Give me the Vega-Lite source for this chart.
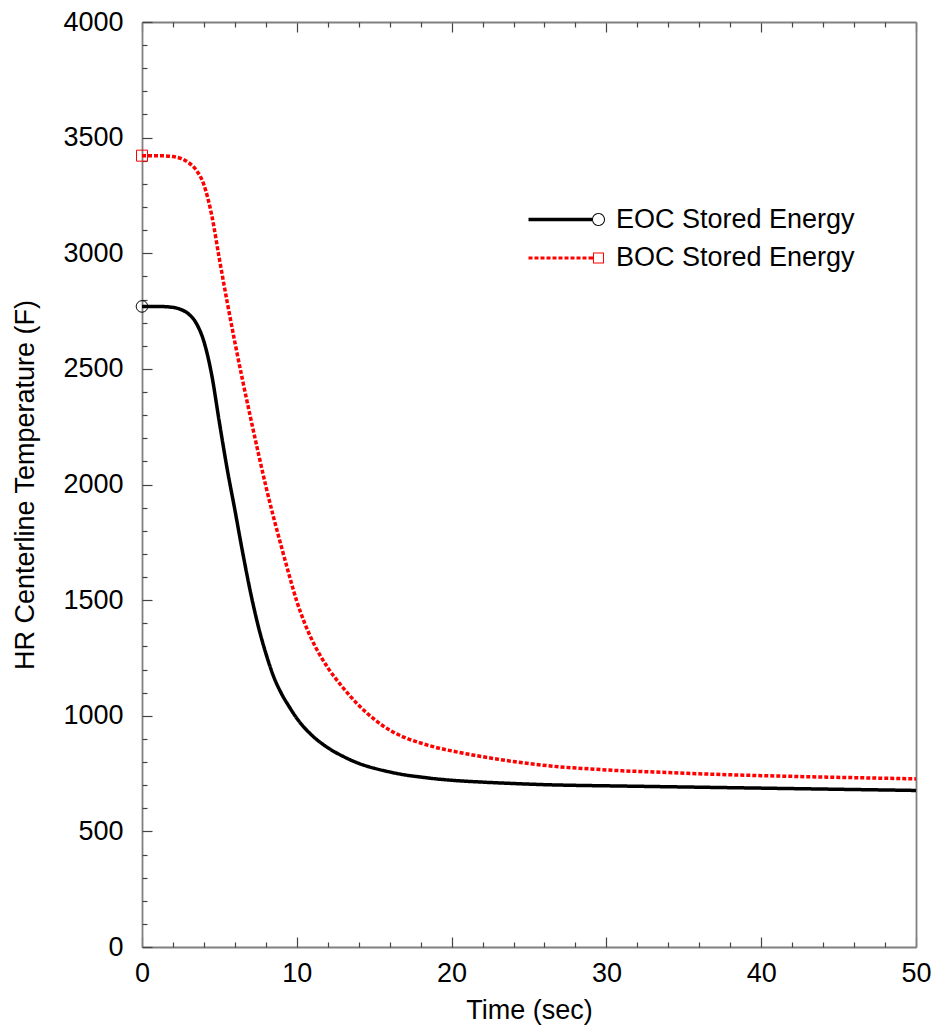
{
  "$schema": "https://vega.github.io/schema/vega-lite/v6.json",
  "width": 774,
  "height": 925,
  "autosize": "none",
  "padding": {"left": 142, "top": 22, "right": 18, "bottom": 85},
  "background": "white",
  "config": {
    "view": {"stroke": null},
    "font": "Liberation Sans",
    "axis": {
      "grid": false,
      "labelFont": "Liberation Sans",
      "titleFont": "Liberation Sans",
      "labelFontSize": 27,
      "titleFontSize": 27,
      "labelColor": "black",
      "titleColor": "black",
      "titleFontWeight": "normal",
      "domainColor": "#808080",
      "domainWidth": 1.8,
      "tickColor": "#444444",
      "tickWidth": 1.2
    }
  },
  "data": {
    "values": [
      {"series": "EOC Stored Energy", "t": 0, "T": 2770},
      {"series": "EOC Stored Energy", "t": 1, "T": 2770},
      {"series": "EOC Stored Energy", "t": 2, "T": 2766},
      {"series": "EOC Stored Energy", "t": 2.5, "T": 2757},
      {"series": "EOC Stored Energy", "t": 3, "T": 2738},
      {"series": "EOC Stored Energy", "t": 3.5, "T": 2698},
      {"series": "EOC Stored Energy", "t": 4, "T": 2618},
      {"series": "EOC Stored Energy", "t": 4.5, "T": 2475},
      {"series": "EOC Stored Energy", "t": 5, "T": 2268},
      {"series": "EOC Stored Energy", "t": 5.5, "T": 2068},
      {"series": "EOC Stored Energy", "t": 6, "T": 1890},
      {"series": "EOC Stored Energy", "t": 6.5, "T": 1707},
      {"series": "EOC Stored Energy", "t": 7, "T": 1537},
      {"series": "EOC Stored Energy", "t": 7.5, "T": 1390},
      {"series": "EOC Stored Energy", "t": 8, "T": 1270},
      {"series": "EOC Stored Energy", "t": 8.5, "T": 1170},
      {"series": "EOC Stored Energy", "t": 9, "T": 1097},
      {"series": "EOC Stored Energy", "t": 9.5, "T": 1040},
      {"series": "EOC Stored Energy", "t": 10, "T": 989},
      {"series": "EOC Stored Energy", "t": 11, "T": 914},
      {"series": "EOC Stored Energy", "t": 12, "T": 862},
      {"series": "EOC Stored Energy", "t": 13, "T": 824},
      {"series": "EOC Stored Energy", "t": 14, "T": 794},
      {"series": "EOC Stored Energy", "t": 15, "T": 773},
      {"series": "EOC Stored Energy", "t": 16, "T": 757},
      {"series": "EOC Stored Energy", "t": 17, "T": 744},
      {"series": "EOC Stored Energy", "t": 18, "T": 735},
      {"series": "EOC Stored Energy", "t": 19, "T": 727},
      {"series": "EOC Stored Energy", "t": 20, "T": 721},
      {"series": "EOC Stored Energy", "t": 22, "T": 713},
      {"series": "EOC Stored Energy", "t": 24, "T": 707},
      {"series": "EOC Stored Energy", "t": 26, "T": 702},
      {"series": "EOC Stored Energy", "t": 28, "T": 699},
      {"series": "EOC Stored Energy", "t": 30, "T": 697},
      {"series": "EOC Stored Energy", "t": 32, "T": 695},
      {"series": "EOC Stored Energy", "t": 35, "T": 692},
      {"series": "EOC Stored Energy", "t": 38, "T": 689},
      {"series": "EOC Stored Energy", "t": 41, "T": 686},
      {"series": "EOC Stored Energy", "t": 44, "T": 683},
      {"series": "EOC Stored Energy", "t": 47, "T": 680},
      {"series": "EOC Stored Energy", "t": 50, "T": 677},
      {"series": "BOC Stored Energy", "t": 0, "T": 3422},
      {"series": "BOC Stored Energy", "t": 1, "T": 3422},
      {"series": "BOC Stored Energy", "t": 2, "T": 3418},
      {"series": "BOC Stored Energy", "t": 2.5, "T": 3410},
      {"series": "BOC Stored Energy", "t": 3, "T": 3392},
      {"series": "BOC Stored Energy", "t": 3.5, "T": 3360},
      {"series": "BOC Stored Energy", "t": 4, "T": 3296},
      {"series": "BOC Stored Energy", "t": 4.5, "T": 3166},
      {"series": "BOC Stored Energy", "t": 5, "T": 2975},
      {"series": "BOC Stored Energy", "t": 5.5, "T": 2790},
      {"series": "BOC Stored Energy", "t": 6, "T": 2615},
      {"series": "BOC Stored Energy", "t": 6.5, "T": 2450},
      {"series": "BOC Stored Energy", "t": 7, "T": 2293},
      {"series": "BOC Stored Energy", "t": 7.5, "T": 2140},
      {"series": "BOC Stored Energy", "t": 8, "T": 1993},
      {"series": "BOC Stored Energy", "t": 8.5, "T": 1858},
      {"series": "BOC Stored Energy", "t": 9, "T": 1732},
      {"series": "BOC Stored Energy", "t": 9.5, "T": 1610},
      {"series": "BOC Stored Energy", "t": 10, "T": 1495},
      {"series": "BOC Stored Energy", "t": 10.5, "T": 1402},
      {"series": "BOC Stored Energy", "t": 11, "T": 1325},
      {"series": "BOC Stored Energy", "t": 11.5, "T": 1262},
      {"series": "BOC Stored Energy", "t": 12, "T": 1208},
      {"series": "BOC Stored Energy", "t": 13, "T": 1120},
      {"series": "BOC Stored Energy", "t": 14, "T": 1045},
      {"series": "BOC Stored Energy", "t": 15, "T": 985},
      {"series": "BOC Stored Energy", "t": 16, "T": 938},
      {"series": "BOC Stored Energy", "t": 17, "T": 905},
      {"series": "BOC Stored Energy", "t": 18, "T": 882},
      {"series": "BOC Stored Energy", "t": 19, "T": 863},
      {"series": "BOC Stored Energy", "t": 20, "T": 848},
      {"series": "BOC Stored Energy", "t": 21, "T": 835},
      {"series": "BOC Stored Energy", "t": 22, "T": 823},
      {"series": "BOC Stored Energy", "t": 23, "T": 812},
      {"series": "BOC Stored Energy", "t": 24, "T": 802},
      {"series": "BOC Stored Energy", "t": 25, "T": 793},
      {"series": "BOC Stored Energy", "t": 27, "T": 779},
      {"series": "BOC Stored Energy", "t": 29, "T": 770},
      {"series": "BOC Stored Energy", "t": 31, "T": 762},
      {"series": "BOC Stored Energy", "t": 33, "T": 757},
      {"series": "BOC Stored Energy", "t": 36, "T": 749},
      {"series": "BOC Stored Energy", "t": 40, "T": 741},
      {"series": "BOC Stored Energy", "t": 44, "T": 735},
      {"series": "BOC Stored Energy", "t": 47, "T": 731},
      {"series": "BOC Stored Energy", "t": 50, "T": 727}
    ]
  },
  "layer": [
    {
      "mark": {"type": "line", "strokeWidth": 3.5, "interpolate": "monotone"},
      "encoding": {
        "x": {
          "field": "t", "type": "quantitative",
          "scale": {"domain": [0, 50], "nice": false, "zero": false},
          "axis": {"orient": "bottom", "values": [0, 10, 20, 30, 40, 50], "ticks": false, "tickSize": 0, "labelPadding": 13, "labelFlush": false, "title": "Time (sec)", "titleY": 71, "titleBaseline": "alphabetic"}
        },
        "y": {
          "field": "T", "type": "quantitative",
          "scale": {"domain": [0, 4000], "nice": false, "zero": false},
          "axis": {"orient": "left", "values": [0, 500, 1000, 1500, 2000, 2500, 3000, 3500, 4000], "format": "d", "ticks": false, "tickSize": 0, "labelPadding": 19, "labelFlush": false, "title": "HR Centerline Temperature (F)", "titleX": -117, "titleY": 462.5, "titleAngle": -90, "titleAlign": "center", "titleBaseline": "middle"}
        },
        "color": {
          "field": "series", "type": "nominal",
          "scale": {"domain": ["EOC Stored Energy", "BOC Stored Energy"], "range": ["black", "red"]},
          "legend": {
            "orient": "none", "legendX": 443, "legendY": 184, "title": null,
            "labelFont": "Liberation Sans", "labelFontSize": 27, "labelColor": "black", "labelLimit": 0,
            "labelOffset": 4, "rowPadding": 10.5, "padding": 0, "symbolSize": 4, "symbolStrokeWidth": 0,
            "encoding": {
              "symbols": {
                "shape": {"condition": {"test": "datum.value == 'EOC Stored Energy'", "value": "M-70,-1.7H-6.5V1.7H-70Z M6.5,0A6.5,6.5,0,1,0,-6.5,0A6.5,6.5,0,1,0,6.5,0Z M5.5,0A5.5,5.5,0,1,1,-5.5,0A5.5,5.5,0,1,1,5.5,0Z"}, "value": "M-70,-1.6h4v3.2h-4Z M-64,-1.6h4v3.2h-4Z M-58,-1.6h4v3.2h-4Z M-52,-1.6h4v3.2h-4Z M-46,-1.6h4v3.2h-4Z M-40,-1.6h4v3.2h-4Z M-34,-1.6h4v3.2h-4Z M-28,-1.6h4v3.2h-4Z M-22,-1.6h4v3.2h-4Z M-16,-1.6h4v3.2h-4Z M-10,-1.6h4.5v3.2h-4.5Z M-5.5,-5.5H5.5V5.5H-5.5Z M-4.5,-4.5V4.5H4.5V-4.5Z"},
                "fill": {"condition": {"test": "datum.value == 'EOC Stored Energy'", "value": "black"}, "value": "#ff0000"},
                "fillOpacity": {"value": 1},
                "opacity": {"value": 1},
                "strokeWidth": {"value": 0},
                "size": {"value": 4}
              }
            }
          }
        },
        "strokeDash": {
          "field": "series", "type": "nominal",
          "scale": {"domain": ["EOC Stored Energy", "BOC Stored Energy"], "range": [[1, 0], [4, 2]]},
          "legend": null
        }
      }
    },
    {
      "transform": [{"filter": "datum.t == 0 && datum.series == 'EOC Stored Energy'"}],
      "mark": {"type": "point", "shape": "circle", "filled": false, "stroke": "black", "strokeWidth": 1, "opacity": 1, "size": 135},
      "encoding": {
        "x": {"field": "t", "type": "quantitative", "axis": {"orient": "bottom", "values": [0, 10, 20, 30, 40, 50], "labels": false, "domain": false, "tickSize": -10, "title": null}},
        "y": {"field": "T", "type": "quantitative", "axis": {"orient": "left", "values": [0, 500, 1000, 1500, 2000, 2500, 3000, 3500, 4000], "labels": false, "domain": false, "tickSize": -10, "title": null}}
      }
    },
    {
      "transform": [{"filter": "datum.t == 0 && datum.series == 'BOC Stored Energy'"}],
      "mark": {"type": "point", "shape": "square", "filled": false, "stroke": "red", "strokeWidth": 1, "opacity": 1, "size": 121},
      "encoding": {
        "x": {"field": "t", "type": "quantitative", "axis": null},
        "y": {"field": "T", "type": "quantitative", "axis": null}
      }
    },
    {
      "mark": {"type": "point", "opacity": 0},
      "encoding": {
        "x": {"field": "t", "type": "quantitative", "axis": {"orient": "bottom", "values": [2, 4, 6, 8, 12, 14, 16, 18, 22, 24, 26, 28, 32, 34, 36, 38, 42, 44, 46, 48], "labels": false, "domain": false, "tickSize": -5, "title": null}},
        "y": {"field": "T", "type": "quantitative", "axis": {"orient": "left", "values": [100, 200, 300, 400, 600, 700, 800, 900, 1100, 1200, 1300, 1400, 1600, 1700, 1800, 1900, 2100, 2200, 2300, 2400, 2600, 2700, 2800, 2900, 3100, 3200, 3300, 3400, 3600, 3700, 3800, 3900], "labels": false, "domain": false, "tickSize": -5, "title": null}}
      }
    },
    {
      "mark": {"type": "point", "opacity": 0},
      "encoding": {
        "x": {"field": "t", "type": "quantitative", "axis": {"orient": "top", "values": [0, 10, 20, 30, 40, 50], "labels": false, "domain": true, "tickSize": -10, "title": null}},
        "y": {"field": "T", "type": "quantitative", "axis": {"orient": "right", "labels": false, "ticks": false, "domain": true, "title": null}}
      }
    },
    {
      "mark": {"type": "point", "opacity": 0},
      "encoding": {
        "x": {"field": "t", "type": "quantitative", "axis": {"orient": "top", "values": [2, 4, 6, 8, 12, 14, 16, 18, 22, 24, 26, 28, 32, 34, 36, 38, 42, 44, 46, 48], "labels": false, "domain": false, "tickSize": -5, "title": null}},
        "y": {"field": "T", "type": "quantitative", "axis": null}
      }
    }
  ],
  "resolve": {"axis": {"x": "independent", "y": "independent"}}
}
